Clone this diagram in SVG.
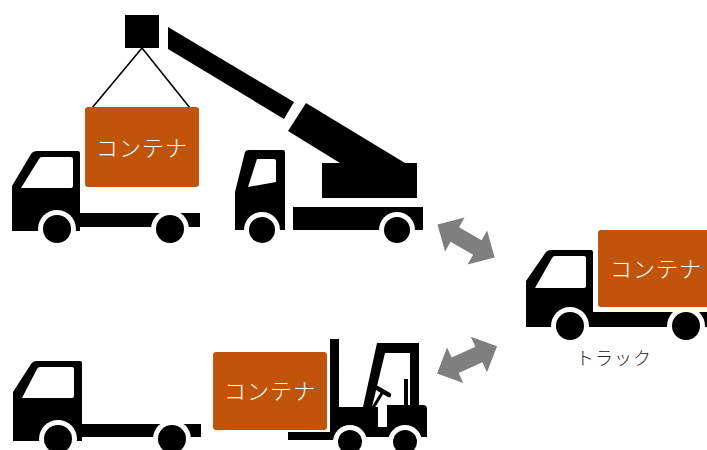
<svg xmlns="http://www.w3.org/2000/svg" width="707" height="450" viewBox="0 0 707 450">
  <style>
    .ink { fill: #000; }
    .hole { fill: #fff; }
    .box { fill: #C0540A; }
    .boxlabel { font-family: "Noto Sans CJK JP", "Noto Sans", sans-serif; font-size: 22px; font-weight: 300; fill: #fff; text-anchor: middle; dominant-baseline: central; letter-spacing: 1px; }
    .caption { font-family: "Noto Sans CJK JP", "Noto Sans", sans-serif; font-size: 18px; font-weight: 300; fill: #222; text-anchor: middle; dominant-baseline: central; letter-spacing: 1px; }
    .sling { stroke: #000; stroke-width: 1.6; fill: none; }
    .swap { fill: #7F7F7F; }
  </style>
  <defs>
    <!-- white ring around each wheel, then the black tyre -->
    <g id="wheel-lg"><circle r="19" class="hole"/><circle r="14" class="ink"/></g>
    <g id="wheel-md"><circle r="18" class="hole"/><circle r="13" class="ink"/></g>
    <g id="wheel-sm"><circle r="17" class="hole"/><circle r="12" class="ink"/></g>
    <!-- double-headed block arrow, tip to tip along +x -->
    <polygon id="dbl-arrow" points="0,0 20,-19.5 20,-8.5 46,-8.5 46,-19.5 66,0 46,19.5 46,8.5 20,8.5 20,19.5"/>
  </defs>

  <!-- crane truck lifting a container -->
  <g id="crane-truck">
    <rect x="125" y="15" width="34" height="33" class="ink"/>
    <line x1="142" y1="48" x2="92" y2="108" class="sling"/>
    <line x1="142" y1="48" x2="190" y2="108" class="sling"/>
    <polygon class="ink" points="168,27 294,102 284,119 168,49"/>
    <polygon class="ink" points="306,103 405,163 340,163 288,131"/>
    <rect x="322" y="163" width="95" height="35" class="ink"/>
    <path class="ink" d="M235,192 L245,152 Q246,150 249,150 L283,150 Q285,150 285,152 L285,230 L235,230 Z"/>
    <path class="hole" d="M257,159 L274,159 Q276,159 276,161 L276,182 L248,187 Z"/>
    <rect x="293" y="207" width="130" height="23" class="ink"/>
    <use href="#wheel-md" x="262" y="230"/>
    <use href="#wheel-md" x="397" y="230"/>
  </g>

  <!-- hoisted container -->
  <g id="container-hoisted">
    <rect x="85" y="107" width="114" height="80" rx="3" class="box"/>
    <text x="142" y="146" class="boxlabel">コンテナ</text>
  </g>

  <!-- flatbed truck, upper -->
  <g id="flatbed-upper">
    <path class="ink" d="M12,186 L31,154 Q33,151 37,151 L78,151 Q80,151 80,153 L80,213 L200,213 L200,227 L80,227 L80,231 L12,231 Z"/>
    <path class="hole" d="M21,188 L39,159 Q40,157 42,157 L71,157 Q73,157 73,159 L73,186 Q73,188 71,188 Z"/>
    <use href="#wheel-lg" x="57" y="229"/>
    <use href="#wheel-lg" x="170" y="229"/>
  </g>

  <!-- box truck on the right -->
  <g id="truck">
    <path class="ink" d="M526,281 L546,252 Q548,250 551,250 L591,250 Q593,250 593,252 L593,312 L707,312 L707,327 L526,327 Z"/>
    <path class="hole" d="M535,288 L552,258 Q553,256 555,256 L584,256 Q586,256 586,258 L586,286 Q586,288 584,288 Z"/>
    <use href="#wheel-lg" x="570" y="326"/>
    <use href="#wheel-lg" x="686" y="326"/>
    <rect x="598" y="230" width="116" height="77" rx="3" class="box"/>
    <text x="656" y="267" class="boxlabel">コンテナ</text>
    <text x="614" y="357" class="caption">トラック</text>
  </g>

  <!-- flatbed truck, lower -->
  <g id="flatbed-lower">
    <path class="ink" d="M13,392 L31,364 Q33,361 36,361 L80,361 Q82,361 82,363 L82,424 L201,424 L201,437 L82,437 L82,441 L13,441 Z"/>
    <path class="hole" d="M22,398 L37,369 Q38,367 40,367 L72,367 Q74,367 74,369 L74,396 Q74,398 72,398 Z"/>
    <use href="#wheel-lg" x="58" y="439"/>
    <use href="#wheel-lg" x="172" y="439"/>
  </g>

  <!-- forklift carrying a container -->
  <g id="forklift">
    <rect x="330" y="339" width="9" height="99" class="ink"/>
    <rect x="288" y="432" width="52" height="8" class="ink"/>
    <polygon class="ink" points="377,343 419,343 419,406 410,406 410,353 385,353 372,407 363,407"/>
    <rect x="404" y="379" width="4" height="26" class="ink"/>
    <path class="ink" d="M338,407 L378,407 L378,427 L387,427 L387,405 L423,405 Q427,405 427,409 L427,437 L338,437 Z"/>
    <line x1="377" y1="388" x2="389" y2="395" stroke="#000" stroke-width="4.5" stroke-linecap="round"/>
    <line x1="382" y1="393" x2="373" y2="408" stroke="#000" stroke-width="3"/>
    <use href="#wheel-sm" x="350" y="442"/>
    <use href="#wheel-sm" x="405" y="442"/>
    <rect x="213" y="352" width="114" height="78" rx="3" class="box"/>
    <text x="270" y="389" class="boxlabel">コンテナ</text>
  </g>

  <!-- two-way transfer arrows -->
  <g id="connectors">
    <use href="#dbl-arrow" class="swap" transform="translate(437.5,224.5) rotate(30)"/>
    <use href="#dbl-arrow" class="swap" transform="translate(437,373.5) rotate(-24.5)"/>
  </g>
</svg>
